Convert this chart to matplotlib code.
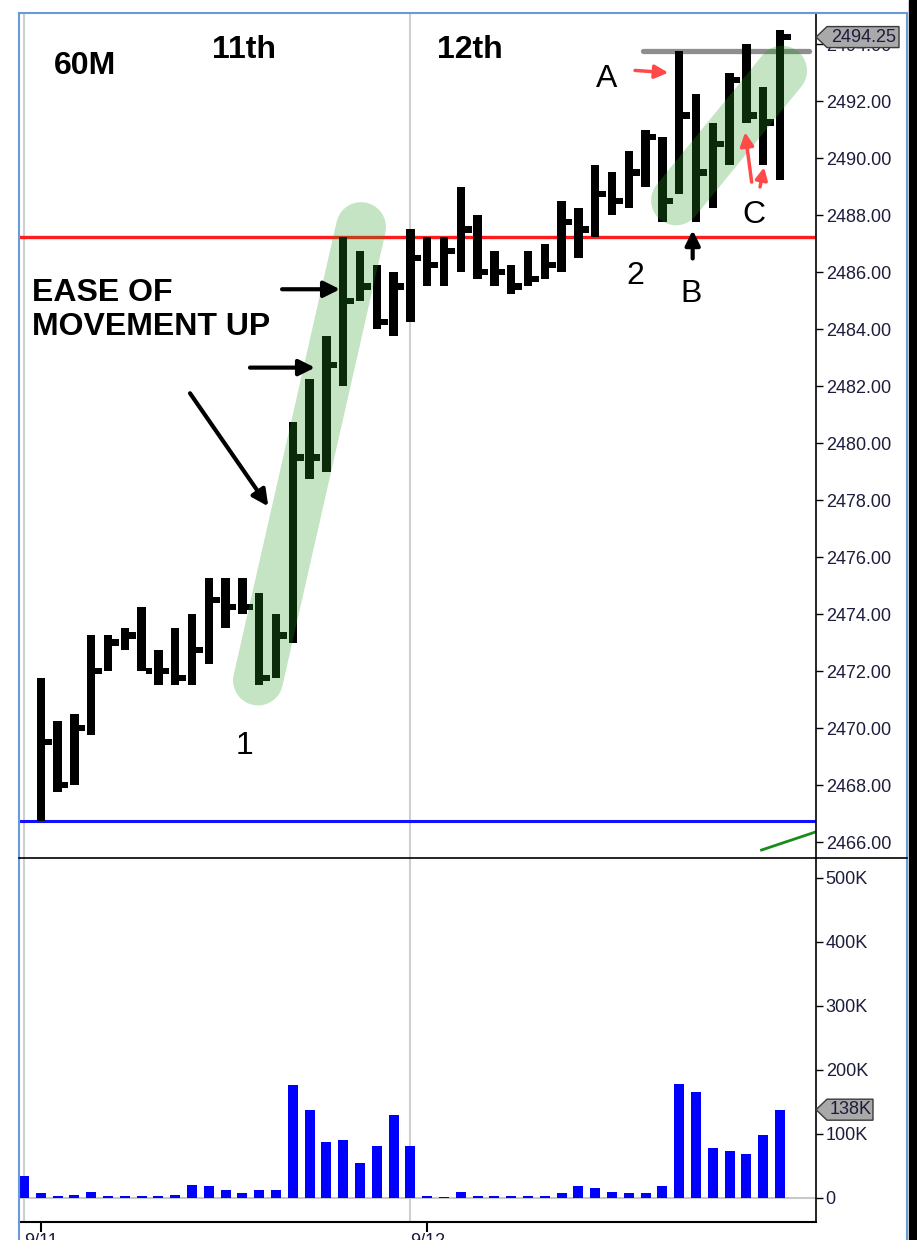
import numpy as np
import matplotlib
matplotlib.use('Agg')
import matplotlib.pyplot as plt
from matplotlib.transforms import ScaledTranslation, blended_transform_factory
from matplotlib.patches import Polygon
from matplotlib.lines import Line2D
from matplotlib.patches import Rectangle

plt.rcParams['font.family'] = ['Liberation Sans', 'DejaVu Sans']

nan = np.nan
# ---- 60-minute HLC bars (index = bar number) ----
highs = [nan, 2471.75, 2470.25, 2470.5, 2473.25, 2473.25, 2473.5, 2474.25, 2472.75, 2473.5,
         2474.0, 2475.25, 2475.25, 2475.25, 2474.75, 2474.0, 2480.75, 2482.25, 2483.75, 2487.25,
         2486.75, 2486.25, 2486.0, 2487.5, 2487.25, 2487.25, 2489.0, 2488.0, 2486.75, 2486.25,
         2486.75, 2487.0, 2488.5, 2488.25, 2489.75, 2489.5, 2490.25, 2491.0, 2490.75, 2493.75,
         2492.25, 2491.25, 2493.0, 2494.0, 2492.5, 2494.5]
lows = [nan, 2466.75, 2467.75, 2468.0, 2469.75, 2472.0, 2472.75, 2472.0, 2471.5, 2471.5,
        2471.5, 2472.25, 2473.5, 2474.0, 2471.5, 2471.75, 2473.0, 2478.75, 2479.0, 2482.0,
        2485.0, 2484.0, 2483.75, 2484.25, 2485.5, 2485.5, 2486.0, 2485.75, 2485.5, 2485.25,
        2485.5, 2485.75, 2486.0, 2486.5, 2487.25, 2488.0, 2488.25, 2489.0, 2487.75, 2488.75,
        2487.75, 2488.25, 2489.75, 2491.25, 2489.75, 2489.25]
closes = [nan, 2469.5, 2468.0, 2470.0, 2472.0, 2473.0, 2473.25, 2472.0, 2472.0, 2471.75,
          2472.75, 2474.5, 2474.25, 2474.25, 2471.75, 2473.25, 2479.5, 2479.5, 2482.75, 2485.0,
          2485.5, 2484.25, 2485.5, 2486.5, 2486.25, 2486.75, 2487.5, 2486.0, 2486.0, 2485.5,
          2485.75, 2486.25, 2487.75, 2487.5, 2488.75, 2488.5, 2489.5, 2490.75, 2488.5, 2491.5,
          2489.5, 2490.5, 2492.75, 2491.5, 2491.25, 2494.25]
volume = [34000, 8000, 3000, 5000, 10000, 3000, 3000, 3000, 3000, 5000,
          21000, 18000, 13000, 8000, 13000, 13000, 176000, 137000, 87000, 90000,
          55000, 82000, 129000, 82000, 3000, 800, 10000, 3000, 3000, 3000,
          3000, 3000, 8000, 18000, 16000, 10000, 8000, 8000, 18000, 178000,
          166000, 78000, 73000, 68000, 99000, 138000]

session_breaks = [0, 23]
date_ticks = [1, 24]
date_labels = ['9/11', '9/12']
price_ticks = [2466 + 2 * k for k in range(15)]
volume_ticks = [0, 100000, 200000, 300000, 400000, 500000]
volume_labels = ['0', '100K', '200K', '300K', '400K', '500K']

red_level = 2487.25
blue_level = 2466.75
gray_level = 2493.75
gray_span = [36.85, 46.7]
ma_x = [43.9, 47.3]
ma_y = [2465.72, 2466.39]
zone1 = ([13.93, 20.06], [2471.67, 2487.58])
zone2 = ([38.81, 45.12], [2488.52, 2493.07])

W, H = 917, 1240
fig = plt.figure(figsize=(W / 100, H / 100), dpi=100)


def fr(x0, y0, x1, y1):
    return [x0 / W, 1 - y1 / H, (x1 - x0) / W, (y1 - y0) / H]


axp = fig.add_axes(fr(19, 14, 816, 858))
axv = fig.add_axes(fr(19, 858, 816, 1222), sharex=axp)

n = len(highs)
x = np.arange(n)
h = np.array(highs)
l = np.array(lows)
c = np.array(closes)
ok = ~np.isnan(h)

label_color = '#1c1c3c'

# price bars
axp.bar(x[ok], (h - l)[ok], bottom=l[ok], width=0.5, color='black', linewidth=0, zorder=3)
axp.bar(x[ok] + 0.44, 0.22, bottom=c[ok] - 0.11, width=0.4, color='black', linewidth=0, zorder=3)

for s in session_breaks:
    axp.axvline(s, color='#cfcfcf', lw=1.5, zorder=1)
    axv.axvline(s, color='#cfcfcf', lw=1.5, zorder=1)

axp.axhline(red_level, color='#ff1c1c', lw=2.4, zorder=2)
axp.axhline(blue_level, color='#1010ff', lw=2.2, zorder=2)
axp.plot(gray_span, [gray_level] * 2, color='#8e8e8e', lw=3.8, solid_capstyle='round', zorder=2)
axp.plot(ma_x, ma_y, color='#1a8c1a', lw=2, zorder=2)

for zx, zy in (zone1, zone2):
    axp.plot(zx, zy, color='#259d25', alpha=0.27, lw=36, solid_capstyle='round', zorder=5)

axp.set_xlim(-0.298, 47.14)
axp.set_ylim(2465.44, 2495.06)
axp.yaxis.tick_right()
axp.set_yticks(price_ticks)
axp.set_yticklabels([f'{v:.2f}' for v in price_ticks])
axp.tick_params(axis='y', length=5, width=1, pad=2, labelsize=13, labelcolor=label_color)
axp.tick_params(axis='x', bottom=False, labelbottom=False)
for side in ['left', 'top', 'bottom']:
    axp.spines[side].set_visible(False)
axp.spines['right'].set_linewidth(1.2)

# volume
axv.bar(x, volume, width=0.6, color='#0000ff', linewidth=0, zorder=3)
axv.axhline(0, color='#c8c8c8', lw=1.5, zorder=2)
axv.set_ylim(-37500, 531250)
axv.yaxis.tick_right()
axv.set_yticks(volume_ticks)
axv.set_yticklabels(volume_labels)
axv.tick_params(axis='y', length=5, width=1, pad=2, labelsize=13, labelcolor=label_color)
axv.set_xticks(date_ticks)
axv.set_xticklabels(date_labels)
axv.tick_params(axis='x', length=7, width=1.5, pad=1, labelsize=13, labelcolor=label_color)
for side in ['left', 'top']:
    axv.spines[side].set_visible(False)
axv.spines['right'].set_linewidth(1.2)
axv.spines['bottom'].set_linewidth(1.5)

# text annotations
bold = dict(fontsize=23, fontweight='bold', color='black', va='baseline', zorder=6)
axp.text(3.63, 2492.95, '60M', ha='center', **bold)
axp.text(13.07, 2493.5, '11th', ha='center', **bold)
axp.text(26.55, 2493.5, '12th', ha='center', **bold)
axp.text(0.45, 2485.0, 'EASE OF', ha='left', **bold)
axp.text(0.45, 2483.8, 'MOVEMENT UP', ha='left', **bold)

reg = dict(fontsize=23, color='black', va='baseline', ha='center', zorder=6)
axp.text(13.15, 2469.1, '1', **reg)
axp.text(36.37, 2485.6, '2', **reg)
axp.text(34.7, 2492.5, 'A', **reg)
axp.text(39.7, 2484.95, 'B', **reg)
axp.text(43.45, 2487.72, 'C', **reg)


def arrow(ax, start, end, color, lw, ms):
    ax.annotate('', xy=end, xytext=start,
                arrowprops=dict(arrowstyle='-|>', color=color, lw=lw, mutation_scale=ms,
                                shrinkA=0, shrinkB=0), zorder=6)


arrow(axp, (15.36, 2485.40), (18.81, 2485.40), 'black', 3, 24)
arrow(axp, (13.45, 2482.65), (17.32, 2482.65), 'black', 3, 24)
arrow(axp, (9.88, 2481.75), (14.54, 2477.78), 'black', 3, 24)
arrow(axp, (39.8, 2486.48), (39.8, 2487.47), 'black', 3, 22)
arrow(axp, (36.37, 2493.08), (38.35, 2493.0), '#ff4a4a', 2.5, 20)
arrow(axp, (43.31, 2489.16), (42.92, 2490.91), '#ff4a4a', 2.5, 20)
arrow(axp, (43.81, 2488.99), (44.05, 2489.68), '#ff4a4a', 2.5, 18)


# value tags on the right axis
def tag(ax, val, text, width_in):
    anchor = ScaledTranslation(1.0, val, blended_transform_factory(ax.transAxes, ax.transData))
    tr = fig.dpi_scale_trans + anchor
    verts = [(0, 0), (0.11, 0.105), (width_in, 0.105), (width_in, -0.105), (0.11, -0.105)]
    ax.add_patch(Polygon(verts, closed=True, transform=tr, facecolor='#a9a9a9',
                         edgecolor='#3a3a3a', lw=1, clip_on=False, zorder=10))
    ax.text((0.11 + width_in) / 2 + 0.01, 0, text, transform=tr, ha='center', va='center',
            fontsize=13, color=label_color, clip_on=False, zorder=11)


tag(axp, closes[-1], f'{closes[-1]:.2f}', 0.83)
tag(axv, volume[-1], f'{volume[-1] // 1000}K', 0.57)

# window frame
frame_blue = '#6a9ad8'
fig.add_artist(Line2D([19 / W, 19 / W], [0, 1 - 13 / H], color=frame_blue, lw=1.5))
fig.add_artist(Line2D([19 / W, 907 / W], [1 - 13 / H, 1 - 13 / H], color=frame_blue, lw=1.5))
fig.add_artist(Line2D([907 / W, 907 / W], [0, 1 - 13 / H], color=frame_blue, lw=1.5))
fig.add_artist(Line2D([19 / W, 907 / W], [1 - 858 / H, 1 - 858 / H], color='black', lw=1.2))
fig.add_artist(Rectangle((909 / W, 0), 8 / W, 1, transform=fig.transFigure, color='black'))

fig.savefig('out.png', dpi=100)
